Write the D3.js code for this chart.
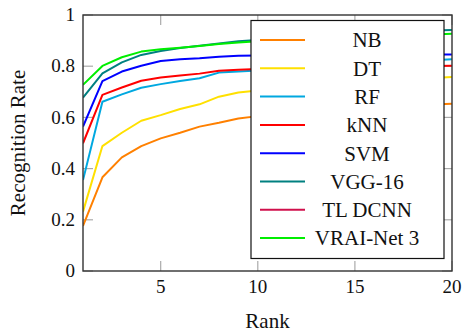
<!DOCTYPE html>
<html>
<head>
<meta charset="utf-8">
<script src="https://cdn.jsdelivr.net/npm/d3@7"></script>
<style>
  body { margin: 0; background: #fff; }
  text { font-family: "Liberation Serif", "DejaVu Serif", serif; fill: #111; }
</style>
</head>
<body>
<script>
// ranks 1..20
var ranks = d3.range(1, 21);

var seriesNames = ["NB", "DT", "RF", "kNN", "SVM", "VGG-16", "TL DCNN", "VRAI-Net 3"];

var nb    = [0.176, 0.366, 0.444, 0.488, 0.518, 0.540, 0.564, 0.579, 0.596, 0.605, 0.612, 0.619, 0.625, 0.630, 0.635, 0.640, 0.644, 0.647, 0.650, 0.653];
var dt    = [0.232, 0.488, 0.540, 0.587, 0.609, 0.633, 0.651, 0.681, 0.697, 0.705, 0.712, 0.718, 0.724, 0.730, 0.736, 0.741, 0.746, 0.750, 0.754, 0.758];
var rf    = [0.355, 0.661, 0.690, 0.716, 0.730, 0.742, 0.753, 0.775, 0.779, 0.783, 0.787, 0.791, 0.796, 0.800, 0.805, 0.810, 0.815, 0.819, 0.823, 0.827];
var knn   = [0.499, 0.688, 0.717, 0.743, 0.756, 0.764, 0.771, 0.782, 0.786, 0.789, 0.790, 0.791, 0.793, 0.794, 0.795, 0.797, 0.798, 0.800, 0.801, 0.802];
var svm   = [0.564, 0.742, 0.779, 0.802, 0.820, 0.827, 0.831, 0.837, 0.841, 0.842, 0.842, 0.843, 0.843, 0.844, 0.844, 0.845, 0.845, 0.846, 0.846, 0.846];
var vgg   = [0.677, 0.772, 0.815, 0.844, 0.859, 0.871, 0.880, 0.889, 0.897, 0.902, 0.907, 0.912, 0.917, 0.921, 0.925, 0.929, 0.933, 0.936, 0.939, 0.941];
var tldcnn = []; // no curve visible in the figure
var vrai  = [0.727, 0.801, 0.835, 0.857, 0.866, 0.872, 0.879, 0.887, 0.893, 0.897, 0.900, 0.903, 0.906, 0.909, 0.912, 0.915, 0.918, 0.921, 0.924, 0.927];

var seriesValues = [nb, dt, rf, knn, svm, vgg, tldcnn, vrai];
var seriesColors = ["#ff8000", "#ffe000", "#00a8e0", "#ff0000", "#0000ff", "#008080", "#d0104c", "#00ee00"];

var xTicks = [5, 10, 15, 20];
var yTicks = [0, 0.2, 0.4, 0.6, 0.8, 1];

var width = 462,
  height = 332,
  plotLeft = 83,
  plotRight = 452,
  plotTop = 15,
  plotBottom = 271;

var x = d3.scaleLinear().domain([1, 20]).range([plotLeft, plotRight]);
var y = d3.scaleLinear().domain([0, 1]).range([plotBottom, plotTop]);

var svg = d3.select("body").append("svg")
  .attr("width", width)
  .attr("height", height);

svg.append("clipPath")
  .attr("id", "plot")
  .append("rect")
  .attr("x", plotLeft)
  .attr("y", plotTop)
  .attr("width", plotRight - plotLeft)
  .attr("height", plotBottom - plotTop);

// inward ticks on all four sides
var tickLen = 10;
var ticks = svg.append("g").attr("stroke", "#aaa").attr("stroke-width", 1.2);
xTicks.forEach(function(t) {
  ticks.append("line").attr("x1", x(t)).attr("x2", x(t)).attr("y1", plotBottom).attr("y2", plotBottom - tickLen);
  ticks.append("line").attr("x1", x(t)).attr("x2", x(t)).attr("y1", plotTop).attr("y2", plotTop + tickLen);
});
yTicks.forEach(function(t) {
  ticks.append("line").attr("x1", plotLeft).attr("x2", plotLeft + tickLen).attr("y1", y(t)).attr("y2", y(t));
  ticks.append("line").attr("x1", plotRight).attr("x2", plotRight - tickLen).attr("y1", y(t)).attr("y2", y(t));
});

var line = d3.line()
  .x(function(d, i) { return x(ranks[i]); })
  .y(function(d) { return y(d); });

svg.append("g")
  .attr("clip-path", "url(#plot)")
  .selectAll(".series")
  .data(seriesValues)
  .enter()
  .append("path")
  .attr("class", "series")
  .attr("fill", "none")
  .attr("stroke", function(d, i) { return seriesColors[i]; })
  .attr("stroke-width", 2)
  .attr("stroke-linejoin", "round")
  .attr("d", function(d) { return d.length ? line(d) : null; });

// axis frame
svg.append("rect")
  .attr("x", plotLeft)
  .attr("y", plotTop)
  .attr("width", plotRight - plotLeft)
  .attr("height", plotBottom - plotTop)
  .attr("fill", "none")
  .attr("stroke", "#333")
  .attr("stroke-width", 1.4);

svg.append("g")
  .selectAll("text")
  .data(xTicks)
  .enter()
  .append("text")
  .attr("x", function(d) { return x(d); })
  .attr("y", 293)
  .attr("text-anchor", "middle")
  .attr("font-size", 19)
  .text(function(d) { return d; });

svg.append("g")
  .selectAll("text")
  .data(yTicks)
  .enter()
  .append("text")
  .attr("x", 75)
  .attr("y", function(d) { return y(d); })
  .attr("dy", "0.33em")
  .attr("text-anchor", "end")
  .attr("font-size", 19)
  .text(function(d) { return d3.format("~g")(d); });

svg.append("text")
  .attr("x", (plotLeft + plotRight) / 2)
  .attr("y", 328)
  .attr("text-anchor", "middle")
  .attr("font-size", 21)
  .text("Rank");

svg.append("text")
  .attr("transform", "translate(25," + ((plotTop + plotBottom) / 2) + ")rotate(-90)")
  .attr("text-anchor", "middle")
  .attr("font-size", 21)
  .text("Recognition Rate");

// legend
var legend = svg.append("g");
legend.append("rect")
  .attr("x", 251)
  .attr("y", 20.5)
  .attr("width", 193)
  .attr("height", 238)
  .attr("fill", "#fff")
  .attr("stroke", "#111")
  .attr("stroke-width", 1.2);

var item = legend.selectAll(".item")
  .data(seriesNames)
  .enter()
  .append("g")
  .attr("class", "item")
  .attr("transform", function(d, i) { return "translate(0," + (40 + i * 28.3) + ")"; });

item.append("line")
  .attr("x1", 260)
  .attr("x2", 305)
  .attr("stroke", function(d, i) { return seriesColors[i]; })
  .attr("stroke-width", 2);

item.append("text")
  .attr("x", 367)
  .attr("dy", "0.35em")
  .attr("text-anchor", "middle")
  .attr("font-size", 21)
  .text(function(d) { return d; });
</script>
</body>
</html>
